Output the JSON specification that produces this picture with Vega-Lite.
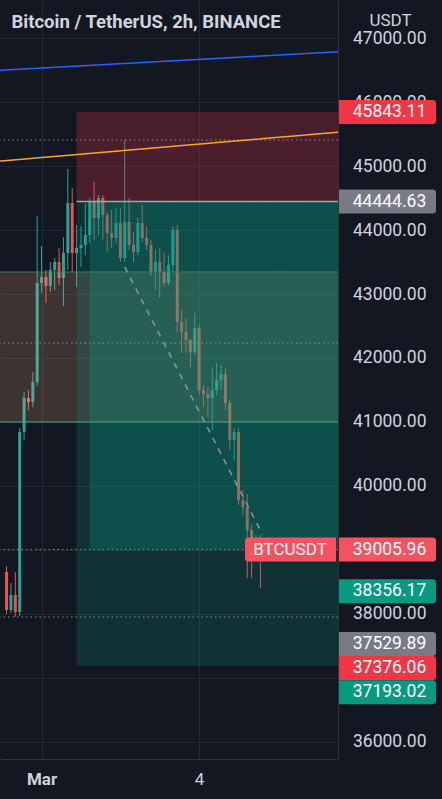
{
  "$schema": "https://vega.github.io/schema/vega-lite/v6.json",
  "background": "#131722",
  "autosize": {"type": "none"},
  "padding": {"left": 0, "top": 0, "right": 442, "bottom": 799},
  "spacing": 0,
  "config": {"view": {"stroke": null}, "font": "Roboto"},
  "datasets": {
    "candles": [
      {"t": "2022-02-28T08:00", "o": 38656, "h": 38750, "l": 38000, "c": 38062},
      {"t": "2022-02-28T10:00", "o": 38062, "h": 38484, "l": 38016, "c": 38297},
      {"t": "2022-02-28T12:00", "o": 38297, "h": 38656, "l": 37953, "c": 38031},
      {"t": "2022-02-28T14:00", "o": 38031, "h": 40906, "l": 37969, "c": 40844},
      {"t": "2022-02-28T16:00", "o": 40844, "h": 41469, "l": 40719, "c": 41375},
      {"t": "2022-02-28T18:00", "o": 41375, "h": 41500, "l": 41187, "c": 41312},
      {"t": "2022-02-28T20:00", "o": 41312, "h": 41781, "l": 41234, "c": 41625},
      {"t": "2022-02-28T22:00", "o": 41625, "h": 44219, "l": 41563, "c": 43172},
      {"t": "2022-03-01T00:00", "o": 43172, "h": 43750, "l": 43016, "c": 43266},
      {"t": "2022-03-01T02:00", "o": 43266, "h": 43375, "l": 42859, "c": 43125},
      {"t": "2022-03-01T04:00", "o": 43125, "h": 43500, "l": 43031, "c": 43375},
      {"t": "2022-03-01T06:00", "o": 43375, "h": 43562, "l": 43062, "c": 43500},
      {"t": "2022-03-01T08:00", "o": 43500, "h": 43719, "l": 43141, "c": 43250},
      {"t": "2022-03-01T10:00", "o": 43250, "h": 43891, "l": 42813, "c": 43641},
      {"t": "2022-03-01T12:00", "o": 43641, "h": 44953, "l": 43375, "c": 44422},
      {"t": "2022-03-01T14:00", "o": 44422, "h": 44656, "l": 43344, "c": 43641},
      {"t": "2022-03-01T16:00", "o": 43641, "h": 44078, "l": 43109, "c": 43719},
      {"t": "2022-03-01T18:00", "o": 43719, "h": 44063, "l": 43422, "c": 43766},
      {"t": "2022-03-01T20:00", "o": 43766, "h": 44422, "l": 43609, "c": 43922},
      {"t": "2022-03-01T22:00", "o": 43922, "h": 44500, "l": 43797, "c": 44438},
      {"t": "2022-03-02T00:00", "o": 44438, "h": 44750, "l": 43844, "c": 44188},
      {"t": "2022-03-02T02:00", "o": 44188, "h": 44547, "l": 43922, "c": 44500},
      {"t": "2022-03-02T04:00", "o": 44500, "h": 44547, "l": 43844, "c": 44234},
      {"t": "2022-03-02T06:00", "o": 44234, "h": 44281, "l": 43656, "c": 43953},
      {"t": "2022-03-02T08:00", "o": 43953, "h": 44313, "l": 43719, "c": 43875},
      {"t": "2022-03-02T10:00", "o": 43875, "h": 44344, "l": 43797, "c": 44109},
      {"t": "2022-03-02T12:00", "o": 44109, "h": 44344, "l": 43500, "c": 43563},
      {"t": "2022-03-02T14:00", "o": 43563, "h": 45406, "l": 43500, "c": 44125},
      {"t": "2022-03-02T16:00", "o": 44125, "h": 44500, "l": 43688, "c": 43766},
      {"t": "2022-03-02T18:00", "o": 43766, "h": 43969, "l": 43500, "c": 43656},
      {"t": "2022-03-02T20:00", "o": 43656, "h": 44188, "l": 43609, "c": 44109},
      {"t": "2022-03-02T22:00", "o": 44109, "h": 44391, "l": 43813, "c": 43875},
      {"t": "2022-03-03T00:00", "o": 43875, "h": 44063, "l": 43688, "c": 43766},
      {"t": "2022-03-03T02:00", "o": 43766, "h": 43844, "l": 43281, "c": 43344},
      {"t": "2022-03-03T04:00", "o": 43344, "h": 43688, "l": 43063, "c": 43500},
      {"t": "2022-03-03T06:00", "o": 43500, "h": 43719, "l": 42938, "c": 43344},
      {"t": "2022-03-03T08:00", "o": 43344, "h": 43641, "l": 43109, "c": 43172},
      {"t": "2022-03-03T10:00", "o": 43172, "h": 43609, "l": 43141, "c": 43453},
      {"t": "2022-03-03T12:00", "o": 43453, "h": 44063, "l": 43344, "c": 44000},
      {"t": "2022-03-03T14:00", "o": 44000, "h": 44078, "l": 42391, "c": 42563},
      {"t": "2022-03-03T16:00", "o": 42563, "h": 42750, "l": 42078, "c": 42406},
      {"t": "2022-03-03T18:00", "o": 42406, "h": 42625, "l": 42078, "c": 42281},
      {"t": "2022-03-03T20:00", "o": 42281, "h": 42300, "l": 41859, "c": 42094},
      {"t": "2022-03-03T22:00", "o": 42094, "h": 42703, "l": 42047, "c": 42469},
      {"t": "2022-03-04T00:00", "o": 42469, "h": 42516, "l": 41422, "c": 41500},
      {"t": "2022-03-04T02:00", "o": 41500, "h": 41578, "l": 41234, "c": 41438},
      {"t": "2022-03-04T04:00", "o": 41438, "h": 41547, "l": 41078, "c": 41375},
      {"t": "2022-03-04T06:00", "o": 41375, "h": 41859, "l": 40875, "c": 41500},
      {"t": "2022-03-04T08:00", "o": 41500, "h": 41922, "l": 41422, "c": 41656},
      {"t": "2022-03-04T10:00", "o": 41656, "h": 41891, "l": 41500, "c": 41750},
      {"t": "2022-03-04T12:00", "o": 41750, "h": 41844, "l": 41188, "c": 41297},
      {"t": "2022-03-04T14:00", "o": 41297, "h": 41344, "l": 40563, "c": 40719},
      {"t": "2022-03-04T16:00", "o": 40719, "h": 40922, "l": 40406, "c": 40844},
      {"t": "2022-03-04T18:00", "o": 40844, "h": 40906, "l": 39703, "c": 39781},
      {"t": "2022-03-04T20:00", "o": 39781, "h": 39938, "l": 39547, "c": 39672},
      {"t": "2022-03-04T22:00", "o": 39672, "h": 39875, "l": 38563, "c": 39313},
      {"t": "2022-03-05T00:00", "o": 39313, "h": 39391, "l": 38563, "c": 39078},
      {"t": "2022-03-05T02:00", "o": 39078, "h": 39234, "l": 38844, "c": 39156},
      {"t": "2022-03-05T04:00", "o": 39156, "h": 39234, "l": 38406, "c": 39005.96}
    ],
    "zones": [
      {"zone": "band", "t1": "2022-02-27T00:00", "t2": "2022-03-08T00:00", "p1": 43344, "p2": 41000},
      {"zone": "target", "t1": "2022-03-01T16:00", "t2": "2022-03-08T00:00", "p1": 44444.63, "p2": 37193.02},
      {"zone": "stop", "t1": "2022-03-01T16:00", "t2": "2022-03-08T00:00", "p1": 45843.11, "p2": 44444.63},
      {"zone": "pnl", "t1": "2022-03-01T22:00", "t2": "2022-03-08T00:00", "p1": 44444.63, "p2": 39005.96}
    ],
    "hlines": [
      {"p": 45406, "kind": "hl"},
      {"p": 42234, "kind": "hl"},
      {"p": 37953, "kind": "hl"},
      {"p": 43344, "kind": "bandtop"},
      {"p": 41000, "kind": "band"},
      {"p": 39005.96, "kind": "last"}
    ],
    "segments": [
      {"name": "upper", "t1": "2022-02-28T00:00", "p1": 46486, "t2": "2022-03-07T00:00", "p2": 46801},
      {"name": "resistance", "t1": "2022-02-28T00:00", "p1": 45062, "t2": "2022-03-07T00:00", "p2": 45553},
      {"name": "path", "t1": "2022-03-02T14:00", "p1": 43420, "t2": "2022-03-05T05:00", "p2": 39240},
      {"name": "entry", "t1": "2022-03-01T16:00", "p1": 44444.63, "t2": "2022-03-08T00:00", "p2": 44444.63}
    ],
    "symbol": [{"sym": "BTCUSDT", "p": 39005.96}],
    "tags": [
      {"p": 45843.11, "kind": "stop"},
      {"p": 44444.63, "kind": "entry"},
      {"p": 39005.96, "kind": "last"},
      {"p": 38356.17, "kind": "prev"},
      {"p": 37529.89, "kind": "entry"},
      {"p": 37376.06, "kind": "stop"},
      {"p": 37193.02, "kind": "target"}
    ]
  },
  "hconcat": [
    {
      "width": 338,
      "height": 759,
      "title": {"text": "Bitcoin / TetherUS, 2h, BINANCE", "anchor": "start", "frame": "group", "orient": "top", "offset": -46, "baseline": "alphabetic", "dx": 11.5, "fontSize": 18.5, "fontWeight": "bold", "color": "#d1d4dc"},
      "resolve": {"scale": {"color": "independent", "opacity": "independent", "strokeDash": "independent", "strokeWidth": "independent"}},
      "layer": [
        {
          "data": {"name": "candles"},
          "mark": {"type": "rule", "clip": true, "strokeWidth": 1},
          "encoding": {
            "x": {"field": "t", "type": "temporal",
              "scale": {"domain": [{"year": 2022, "month": 2, "date": 28, "hours": 7, "minutes": 17}, {"year": 2022, "month": 3, "date": 6, "hours": 13, "minutes": 11}]},
              "axis": {"title": null, "values": [{"year": 2022, "month": 3, "date": 1}, {"year": 2022, "month": 3, "date": 4}],
                "labelExpr": "date(datum.value) == 1 ? 'Mar' : '' + date(datum.value)",
                "grid": true, "gridColor": "#252934", "ticks": false, "tickSize": 0, "domain": true, "domainColor": "#2e323d",
                "labelColor": "#d1d4dc", "labelFontSize": 17,
                "labelFontWeight": {"condition": {"test": "date(datum.value) == 1", "value": "bold"}, "value": "normal"},
                "labelBaseline": "middle", "labelPadding": 20, "labelFlush": false, "labelOverlap": false, "labelBound": false}},
            "y": {"field": "l", "type": "quantitative",
              "scale": {"domain": [35734, 47594], "nice": false, "zero": false},
              "axis": {"orient": "right", "title": null, "values": [36000, 37000, 38000, 39000, 40000, 41000, 42000, 43000, 44000, 45000, 46000, 47000],
                "labels": false, "ticks": false, "tickSize": 0, "grid": true, "gridColor": "#232733", "domain": true, "domainColor": "#2e323d"}},
            "y2": {"field": "h"},
            "color": {"condition": {"test": "datum.c >= datum.o", "value": "#26a69a"}, "value": "#ef5350"}
          }
        },
        {
          "data": {"name": "candles"},
          "mark": {"type": "bar", "clip": true, "width": 3},
          "encoding": {
            "x": {"field": "t", "type": "temporal"},
            "y": {"field": "o", "type": "quantitative"},
            "y2": {"field": "c"},
            "color": {"condition": {"test": "datum.c >= datum.o", "value": "#26a69a"}, "value": "#ef5350"}
          }
        },
        {
          "data": {"name": "zones"},
          "mark": {"type": "rect", "clip": true},
          "encoding": {
            "x": {"field": "t1", "type": "temporal"},
            "x2": {"field": "t2"},
            "y": {"field": "p1", "type": "quantitative"},
            "y2": {"field": "p2"},
            "color": {"field": "zone", "type": "nominal", "scale": {"domain": ["band", "target", "stop", "pnl"], "range": ["#ffb782", "#089981", "#f23645", "#089981"]}, "legend": null},
            "opacity": {"field": "zone", "type": "nominal", "scale": {"domain": ["band", "target", "stop", "pnl"], "range": [0.18, 0.28, 0.17, 0.08]}, "legend": null}
          }
        },
        {
          "data": {"name": "hlines"},
          "mark": {"type": "rule", "strokeWidth": 1},
          "encoding": {
            "y": {"field": "p", "type": "quantitative"},
            "color": {"field": "kind", "type": "nominal", "scale": {"domain": ["hl", "last", "band", "bandtop"], "range": ["#8a8d96", "#f7525f", "#4fa57e", "#3f7f63"]}, "legend": null},
            "strokeDash": {"field": "kind", "type": "nominal", "scale": {"domain": ["hl", "last", "band", "bandtop"], "range": [[1.5, 3], [1.5, 3], [1, 0], [1, 0]]}, "legend": null}
          }
        },
        {
          "data": {"name": "segments"},
          "mark": {"type": "rule", "clip": true},
          "encoding": {
            "x": {"field": "t1", "type": "temporal"},
            "x2": {"field": "t2"},
            "y": {"field": "p1", "type": "quantitative"},
            "y2": {"field": "p2"},
            "color": {"field": "name", "type": "nominal", "scale": {"domain": ["upper", "resistance", "path", "entry"], "range": ["#2962ff", "#ffa726", "#8f939c", "#a3a6af"]}, "legend": null},
            "strokeDash": {"field": "name", "type": "nominal", "scale": {"domain": ["upper", "resistance", "path", "entry"], "range": [[1, 0], [1, 0], [6, 6], [1, 0]]}, "legend": null},
            "strokeWidth": {"field": "name", "type": "nominal", "scale": {"domain": ["upper", "resistance", "path", "entry"], "range": [1.5, 1.5, 1.5, 1]}, "legend": null}
          }
        },
        {
          "data": {"name": "symbol"},
          "mark": {"type": "point", "shape": "M-0.92,-0.2637H1V0.2637H-0.92Q-1,0.2637 -1,0.19V-0.19Q-1,-0.2637 -0.92,-0.2637Z", "size": 8281, "filled": true, "opacity": 1, "color": "#f7525f", "xOffset": -47.5},
          "encoding": {
            "x": {"value": "width"},
            "y": {"field": "p", "type": "quantitative"}
          }
        },
        {
          "data": {"name": "symbol"},
          "mark": {"type": "text", "fontSize": 17, "color": "#ffffff", "dx": -48, "align": "center", "baseline": "middle"},
          "encoding": {
            "x": {"value": "width"},
            "y": {"field": "p", "type": "quantitative"},
            "text": {"field": "sym"}
          }
        }
      ]
    },
    {
      "width": 104,
      "height": 759,
      "data": {"name": "tags"},
      "title": {"text": "USDT", "anchor": "middle", "frame": "group", "orient": "top", "offset": -43, "baseline": "alphabetic", "dx": -0.5, "fontSize": 17, "fontWeight": "normal", "color": "#d1d4dc"},
      "encoding": {
        "y": {"field": "p", "type": "quantitative",
          "scale": {"domain": [35734, 47594], "nice": false, "zero": false},
          "axis": {"orient": "right", "title": null, "values": [36000, 38000, 40000, 41000, 42000, 43000, 44000, 45000, 46000, 47000], "format": ".2f",
            "ticks": false, "tickSize": 0, "domain": false, "grid": false, "labelPadding": -17, "labelAlign": "right", "labelBaseline": "middle",
            "labelColor": "#d1d4dc", "labelFontSize": 17.5, "labelFlush": false, "labelOverlap": false, "labelBound": false}}
      },
      "layer": [
        {
          "transform": [{"filter": "datum.p > 37400"}],
          "mark": {"type": "point", "shape": "M-1,-0.2474H0.93Q1,-0.2474 1,-0.18V0.18Q1,0.2474 0.93,0.2474H-1Z", "size": 9409, "filled": true, "opacity": 1, "xOffset": -3.5},
          "encoding": {"color": {"field": "kind", "type": "nominal", "scale": {"domain": ["stop", "entry", "last", "prev", "target"], "range": ["#f23645", "#787b86", "#f7525f", "#089981", "#089981"]}, "legend": null}}
        },
        {
          "transform": [{"filter": "datum.p > 37400"}],
          "mark": {"type": "text", "fontSize": 17.5, "color": "#ffffff", "dx": -1.5, "align": "center", "baseline": "middle"},
          "encoding": {"text": {"field": "p", "type": "quantitative", "format": ".2f"}}
        },
        {
          "transform": [{"filter": "datum.p < 37400 && datum.p > 37300"}],
          "mark": {"type": "point", "shape": "M-1,-0.2474H0.93Q1,-0.2474 1,-0.18V0.18Q1,0.2474 0.93,0.2474H-1Z", "size": 9409, "filled": true, "opacity": 1, "xOffset": -3.5, "yOffset": 14},
          "encoding": {"color": {"field": "kind", "type": "nominal", "scale": {"domain": ["stop", "entry", "last", "prev", "target"], "range": ["#f23645", "#787b86", "#f7525f", "#089981", "#089981"]}, "legend": null}}
        },
        {
          "transform": [{"filter": "datum.p < 37400 && datum.p > 37300"}],
          "mark": {"type": "text", "fontSize": 17.5, "color": "#ffffff", "dx": -1.5, "align": "center", "baseline": "middle", "yOffset": 14},
          "encoding": {"text": {"field": "p", "type": "quantitative", "format": ".2f"}}
        },
        {
          "transform": [{"filter": "datum.p < 37300"}],
          "mark": {"type": "point", "shape": "M-1,-0.2474H0.93Q1,-0.2474 1,-0.18V0.18Q1,0.2474 0.93,0.2474H-1Z", "size": 9409, "filled": true, "opacity": 1, "xOffset": -3.5, "yOffset": 26.5},
          "encoding": {"color": {"field": "kind", "type": "nominal", "scale": {"domain": ["stop", "entry", "last", "prev", "target"], "range": ["#f23645", "#787b86", "#f7525f", "#089981", "#089981"]}, "legend": null}}
        },
        {
          "transform": [{"filter": "datum.p < 37300"}],
          "mark": {"type": "text", "fontSize": 17.5, "color": "#ffffff", "dx": -1.5, "align": "center", "baseline": "middle", "yOffset": 26.5},
          "encoding": {"text": {"field": "p", "type": "quantitative", "format": ".2f"}}
        }
      ]
    }
  ]
}
